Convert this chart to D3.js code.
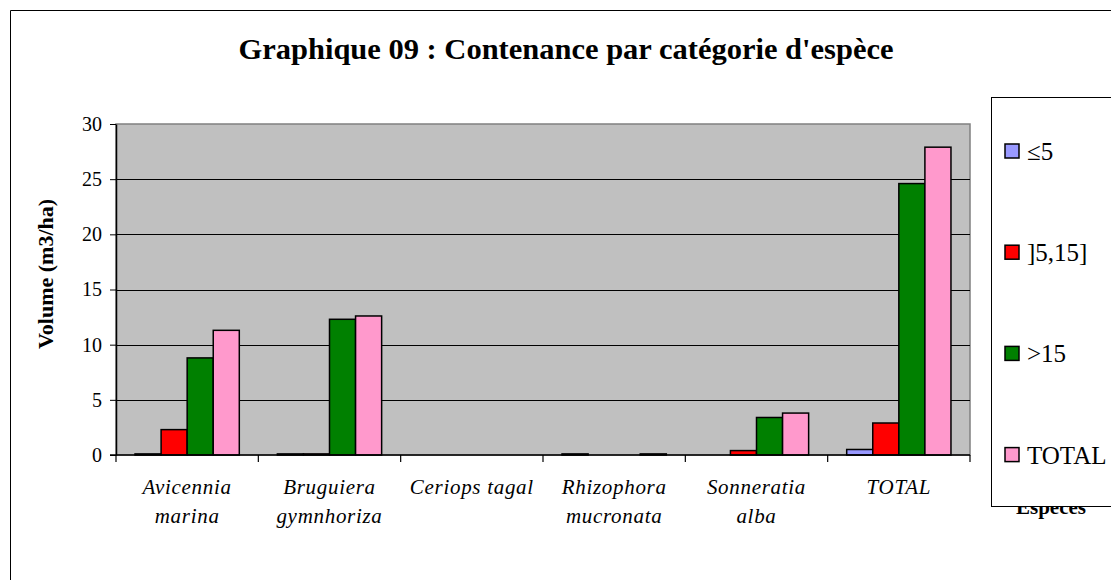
<!DOCTYPE html>
<meta charset="utf-8">
<script src="https://d3js.org/d3.v7.min.js"></script>
<style>
  body { margin: 0; background: #fff; }
</style>
<div id="chart"></div>
<script>

// data
var categories = ["Avicennia marina", "Bruguiera gymnhoriza", "Ceriops tagal", "Rhizophora mucronata", "Sonneratia alba", "TOTAL"];
var categoryLines = [["Avicennia", "marina"], ["Bruguiera", "gymnhoriza"], ["Ceriops tagal"], ["Rhizophora", "mucronata"], ["Sonneratia", "alba"], ["TOTAL"]];
var seriesNames = ["\u22645", "]5,15]", ">15", "TOTAL"];
var le5   = [0.1, 0.1, 0, 0.1, 0, 0.5];
var mid   = [2.3, 0.1, 0, 0, 0.4, 2.9];
var gt15  = [8.8, 12.3, 0, 0, 3.4, 24.6];
var total = [11.3, 12.6, 0, 0.1, 3.8, 27.9];
var yTicks = [0, 5, 10, 15, 20, 25, 30];
var colors = ["#9999FF", "#FF0000", "#008000", "#FF99CC"];

var seriesValues = [le5, mid, gt15, total];

var W = 1111, H = 580;
var plot = {left: 116, right: 970, top: 124, bottom: 455};
var serif = "'Liberation Serif', 'Times New Roman', serif";

var svg = d3.select("#chart")
  .append("svg")
    .attr("width", W)
    .attr("height", H);

// outer frame (runs off the right and bottom edges)
svg.append("path")
  .attr("d", "M10.5," + H + "V10.5H" + W)
  .attr("fill", "none")
  .attr("stroke", "#000")
  .attr("stroke-width", 1);

// title
svg.append("text")
  .attr("x", 566)
  .attr("y", 59)
  .attr("text-anchor", "middle")
  .attr("textLength", 655)
  .attr("lengthAdjust", "spacingAndGlyphs")
  .style("font-size", "29px")
  .style("font-weight", "bold")
  .text("Graphique 09 : Contenance par catégorie d'espèce");

// scales
var x = d3.scaleBand()
  .domain(categories)
  .range([plot.left, plot.right])
  .paddingInner(0)
  .paddingOuter(0);

var xSub = d3.scaleBand()
  .domain(seriesNames)
  .range([0, x.bandwidth()])
  .paddingInner(0)
  .paddingOuter(0.73);

var y = d3.scaleLinear()
  .domain([0, 30])
  .range([plot.bottom, plot.top]);

// plot area background
svg.append("rect")
  .attr("x", plot.left)
  .attr("y", plot.top)
  .attr("width", plot.right - plot.left)
  .attr("height", plot.bottom - plot.top)
  .attr("fill", "#C0C0C0")
  .attr("stroke", "#808080")
  .attr("stroke-width", 1.5);

// gridlines
svg.append("g")
  .selectAll("line")
  .data(yTicks.filter(function(d) { return d > 0 && d < 30; }))
  .enter()
  .append("line")
    .attr("x1", plot.left)
    .attr("x2", plot.right)
    .attr("y1", function(d) { return Math.round(y(d)) + 0.5; })
    .attr("y2", function(d) { return Math.round(y(d)) + 0.5; })
    .attr("stroke", "#000")
    .attr("stroke-width", 1);

// bars
var groups = svg.append("g")
  .selectAll("g")
  .data(seriesNames)
  .enter()
  .append("g")
    .attr("fill", function(d, i) { return colors[i]; });

groups.selectAll("rect")
  .data(function(s, i) {
    return categories.map(function(c, j) { return {cat: c, series: s, v: seriesValues[i][j]}; });
  })
  .enter()
  .filter(function(d) { return d.v > 0; })
  .append("rect")
    .attr("x", function(d) { return x(d.cat) + xSub(d.series); })
    .attr("y", function(d) { return y(d.v); })
    .attr("width", xSub.bandwidth())
    .attr("height", function(d) { return y(0) - y(d.v); })
    .attr("stroke", "#000")
    .attr("stroke-width", 1.5);

// y axis
var yAxis = svg.append("g")
  .attr("transform", "translate(" + plot.left + ",0)")
  .call(d3.axisLeft(y).tickValues(yTicks).tickSize(6).tickPadding(8).tickSizeOuter(0));
yAxis.select(".domain").attr("stroke", "#000").attr("stroke-width", 1.5);
yAxis.selectAll("text")
  .style("font-size", "20px")
  .attr("fill", "#000");

// x axis
var xAxis = svg.append("g")
  .attr("transform", "translate(0," + plot.bottom + ")");
xAxis.append("line")
  .attr("x1", plot.left - 6)
  .attr("x2", plot.right)
  .attr("stroke", "#000")
  .attr("stroke-width", 1.5);
xAxis.selectAll(".tick")
  .data(categories.map(function(c) { return x(c); }).concat([plot.right]))
  .enter()
  .append("line")
    .attr("x1", function(d) { return d; })
    .attr("x2", function(d) { return d; })
    .attr("y1", 0)
    .attr("y2", 7)
    .attr("stroke", "#000")
    .attr("stroke-width", 1.2);

// category labels
var labels = svg.append("g")
  .selectAll("text")
  .data(categories)
  .enter()
  .append("text")
    .attr("x", function(d) { return x(d) + x.bandwidth() / 2; })
    .attr("y", 494)
    .attr("text-anchor", "middle")
    .style("font-size", "21px")
    .style("letter-spacing", "0.7px")
    .style("font-style", "italic");
labels.selectAll("tspan")
  .data(function(d, i) { return categoryLines[i]; })
  .enter()
  .append("tspan")
    .attr("x", function() { return d3.select(this.parentNode).attr("x"); })
    .attr("dy", function(d, i) { return i === 0 ? 0 : 29; })
    .text(function(d) { return d; });

// y axis title
svg.append("text")
  .attr("transform", "translate(53,274) rotate(-90)")
  .attr("text-anchor", "middle")
  .style("font-size", "22px")
  .style("font-weight", "bold")
  .text("Volume (m3/ha)");

// x axis title (mostly hidden behind the legend)
svg.append("text")
  .attr("x", 1051)
  .attr("y", 514)
  .attr("text-anchor", "middle")
  .style("font-size", "21px")
  .style("font-weight", "bold")
  .text("Espèces");

// legend
var legend = svg.append("g");
legend.append("rect")
  .attr("x", 991.5)
  .attr("y", 97.5)
  .attr("width", 140)
  .attr("height", 409)
  .attr("fill", "#fff")
  .attr("stroke", "#000")
  .attr("stroke-width", 1);

var legendItems = legend.selectAll(".item")
  .data(seriesNames)
  .enter()
  .append("g")
    .attr("transform", function(d, i) { return "translate(1005," + (144 + i * 101.2) + ")"; });
legendItems.append("rect")
  .attr("width", 14)
  .attr("height", 14)
  .attr("fill", function(d, i) { return colors[i]; })
  .attr("stroke", "#000")
  .attr("stroke-width", 1.5);
legendItems.append("text")
  .attr("x", 22)
  .attr("y", 16)
  .style("font-size", "25px")
  .text(function(d) { return d; });

// same serif face everywhere
svg.selectAll("text").style("font-family", serif);

</script>
